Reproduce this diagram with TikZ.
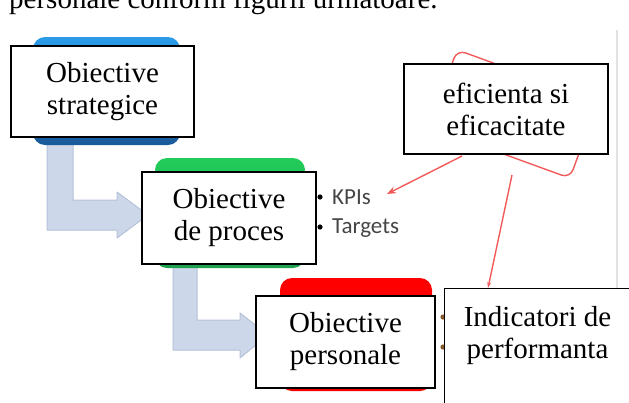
\documentclass[tikz,border=0pt]{standalone}
\usepackage{fontspec}
\setmainfont{Liberation Serif}
\newfontfamily\calfont{Carlito}
\usetikzlibrary{arrows.meta,calc}
\definecolor{arrowfill}{HTML}{CCD8EA}
\definecolor{arrowedge}{HTML}{B4C2D8}
\definecolor{blueTop}{HTML}{2A9BE8}
\definecolor{blueBot}{HTML}{195A9A}
\definecolor{greenTop}{HTML}{22CC5A}
\definecolor{greenBot}{HTML}{1FA04E}
\definecolor{redTop}{HTML}{FF0000}
\definecolor{redBot}{HTML}{F20000}
\definecolor{annot}{HTML}{F25A5A}
\definecolor{bullettext}{HTML}{454545}
\definecolor{edgegray}{HTML}{E2E2E2}
\begin{document}
\begin{tikzpicture}[x=1pt,y=-1pt,
  box/.style={draw=black, line width=1.4pt, fill=white, align=center,
    font=\fontsize{29}{32}\selectfont, inner sep=0pt},
  flowarrow/.style={fill=arrowfill, draw=arrowedge, line width=1pt, line join=round},
  annotline/.style={draw=annot, line width=1.4pt},
  bulletlabel/.style={font=\calfont\fontsize{23}{25}\selectfont, text=bullettext, inner sep=0pt, anchor=base west},
  bulletdot/.style={fill=black, draw=none},
]
\clip (0,0) rectangle (629,402);
\useasboundingbox (0,0) rectangle (629,402);

% cut-off line of text at the top
\node[anchor=base west, inner sep=0pt, font=\fontsize{29}{32}\selectfont] (toptext) at (9,8.5) {personale conform figurii urmatoare.};

% right gray edge
\draw[edgegray, line width=1.5pt] (617,30) coordinate (g1) -- (617,288) coordinate (g2);

% L-shaped flow arrows
\draw[flowarrow] (47,142) -- (73,142) -- (73,200) -- (117,200) -- (117,192) -- (148,215)
  -- (117,238) -- (117,230) -- (47,230) -- cycle;
\draw[flowarrow] (173,262) -- (197,262) -- (197,320) -- (240,320) -- (240,313) -- (268,335)
  -- (240,358) -- (240,350) -- (173,350) -- cycle;

% coloured rounded backgrounds
\shade[top color=blueTop, bottom color=blueBot, rounded corners=12pt] (33,37) rectangle (180,145);
\shade[top color=greenTop, bottom color=greenBot, rounded corners=12pt] (155,158) rectangle (305,268);
\shade[top color=redTop, bottom color=redBot, rounded corners=12pt] (280,278) rectangle (432,391);

% hidden bullets of the red block
\fill[brown!70!black] (443,317) circle (2.6);
\fill[brown!70!black] (443,347) circle (2.6);

% red rotated rounded frame
\node[draw=annot, line width=1.4pt, rounded corners=9pt, minimum width=150pt, minimum height=82pt,
  rotate=-20, inner sep=0pt] (frame) at (513.5,114) {};

% KPI / Targets bullets
\fill[bulletdot] (320,197) circle (2.6);
\fill[bulletdot] (320,227) circle (2.6);
\node[bulletlabel] (kpis) at (332,204) {KPIs};
\node[bulletlabel] (targets) at (332,233) {Targets};

% white label boxes
\node[box, minimum width=183pt, minimum height=91pt] (strat) at (102.5,91.5) {Obiective\\strategice};
\node[box, minimum width=174pt, minimum height=92pt] (proces) at (229,218) {Obiective\\de proces};
\node[box, minimum width=179pt, minimum height=92pt] (pers) at (345.5,342) {Obiective\\personale};
\node[box, minimum width=204pt, minimum height=90pt] (efic) at (506,109) {eficienta si\\eficacitate};
\node[box, minimum width=188pt, minimum height=140pt, anchor=north west] (indic) at (444,288) {};
\node[align=center, font=\fontsize{29}{32}\selectfont, inner sep=0pt, anchor=base] (indictext)
  at (537.5,358) {Indicatori de\\performanta};

% annotation arrows
\coordinate (a1) at (462,156);
\coordinate (kpitip) at (387,194);
\coordinate (a2) at (512,175);
\coordinate (indtip) at (488,288);
\draw[annotline, -{Stealth[length=9pt,width=7pt]}] (a1) -- (kpitip);
\draw[annotline, -{Stealth[length=6pt,width=4pt]}] (a2) -- (indtip);
\end{tikzpicture}
\end{document}
